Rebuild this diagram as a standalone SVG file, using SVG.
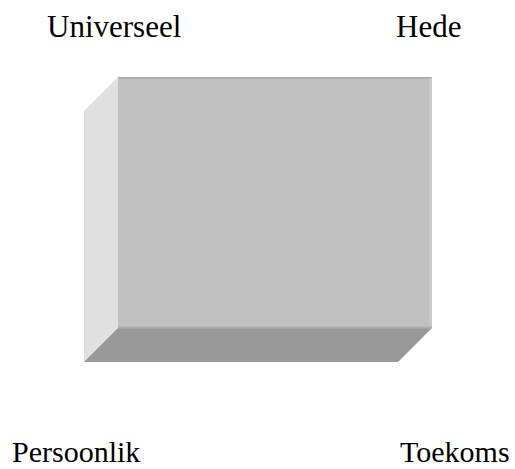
<svg xmlns="http://www.w3.org/2000/svg" width="515" height="469" viewBox="0 0 515 469">
  <style>
    .lbl { font-family: "Liberation Serif", "Times New Roman", serif; font-size: 31px; fill: #000; }
    .low { font-size: 30px; }
  </style>
  <rect width="515" height="469" fill="#fff"/>
  <g id="box">
    <!-- left bevel -->
    <polygon points="84,111 118,77 118,328 84,362" fill="#e0e0e0"/>
    <!-- bottom bevel -->
    <polygon points="118,328 432,328 398,362 84,362" fill="#999999"/>
    <!-- front face -->
    <rect x="118" y="77" width="314" height="251" fill="#c0c0c0"/>
    <rect x="118" y="77" width="314" height="1.5" fill="#a9a9a9"/>
    <rect x="429" y="78" width="3" height="250" fill="#c9c9c9"/>
    <rect x="118" y="326.5" width="314" height="2" fill="#b0b0b0"/>
  </g>
  <g id="labels">
    <text class="lbl" x="47" y="37">Universeel</text>
    <text class="lbl" x="396" y="37">Hede</text>
    <text class="lbl low" x="12" y="462">Persoonlik</text>
    <text class="lbl low" x="400" y="462">Toekoms</text>
  </g>
</svg>
